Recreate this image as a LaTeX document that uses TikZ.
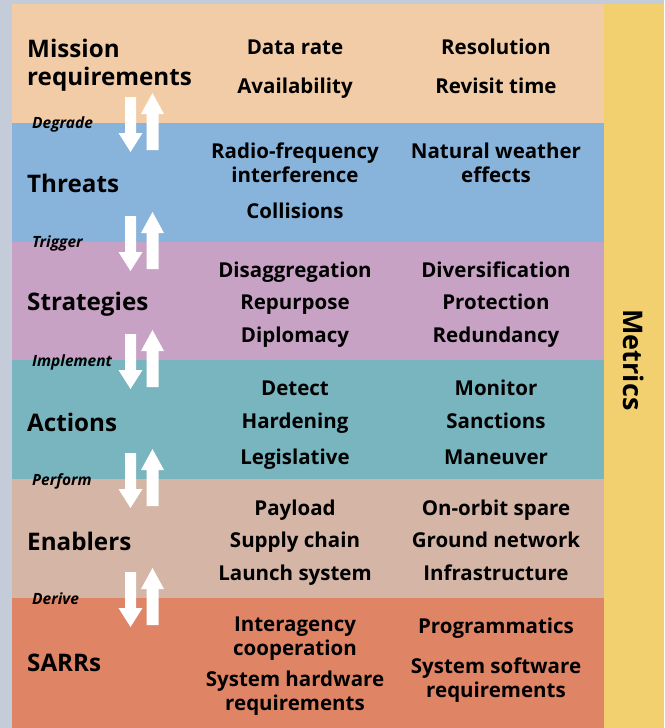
\documentclass[tikz,border=0pt]{standalone}
\usepackage{fontspec}
\setmainfont{Open Sans}
\definecolor{frame}{HTML}{C5CCD9}
\definecolor{missionc}{HTML}{F2CCA6}
\definecolor{threatc}{HTML}{88B4DC}
\definecolor{strategyc}{HTML}{C8A2C5}
\definecolor{actionc}{HTML}{79B5BF}
\definecolor{enablerc}{HTML}{D4B5A6}
\definecolor{sarrc}{HTML}{E08466}
\definecolor{metricc}{HTML}{F2CF6F}
\tikzset{
  rowlabel/.style={anchor=base west, inner sep=0pt, align=left,
    font=\bfseries\fontsize{24.2}{28}\selectfont},
  item/.style={anchor=base, inner sep=0pt, align=center,
    font=\bfseries\fontsize{20.5}{23.5}\selectfont},
  verb/.style={anchor=base west, inner sep=0pt,
    font=\bfseries\itshape\fontsize{15.5}{18}\selectfont},
  % paired down/up arrows straddling the border between two layers
  updown/.pic={
    \fill[white] (-5.5,-26) -- (5.5,-26) -- (5.5,10) -- (12,10) -- (0,29)
      -- (-12,10) -- (-5.5,10) -- cycle;
    \fill[white] (16,27) -- (28,27) -- (28,-9) -- (33.5,-9) -- (22,-30)
      -- (10.5,-9) -- (16,-9) -- cycle;
  }
}
\begin{document}
\begin{tikzpicture}[x=1pt,y=-1pt]
\useasboundingbox (0,0) rectangle (664,728);
\fill[frame] (0,0) rectangle (664,728);
% layers
\fill[missionc]  (12,4)   rectangle (604,123);
\fill[threatc]   (12,123) rectangle (604,242);
\fill[strategyc] (12,242) rectangle (604,360);
\fill[actionc]   (12,360) rectangle (604,479);
\fill[enablerc]  (12,479) rectangle (604,598);
\fill[sarrc]     (12,598) rectangle (604,728);
% metrics bar
\fill[metricc] (604,4) rectangle (664,728);
\node[rotate=-90, inner sep=0pt, font=\bfseries\fontsize{27}{30}\selectfont]
  (metrics) at (634,360) {Metrics};

% row labels (multi-line nodes are placed by their last baseline)
\node[rowlabel] (mission) at (27,85) {Mission\\requirements};
\node[rowlabel] (threats) at (27,192) {Threats};
\node[rowlabel] (strategies) at (27,310) {Strategies};
\node[rowlabel] (actions) at (27,431) {Actions};
\node[rowlabel] (enablers) at (27,550) {Enablers};
\node[rowlabel] (sarrs) at (27,671) {SARRs};

% arrows between layers
\foreach \b in {123,242,360,479,598}
  \pic at (130.5,\b) {updown};

% relation labels
\node[verb] (degrade) at (32,128) {Degrade};
\node[verb] (trigger) at (32,247) {Trigger};
\node[verb] (implement) at (32,366) {Implement};
\node[verb] (perform) at (32,485) {Perform};
\node[verb] (derive) at (32,604) {Derive};

% mission requirements
\node[item] (m1) at (295,54) {Data rate};
\node[item] (m2) at (295,93) {Availability};
\node[item] (m3) at (496,54) {Resolution};
\node[item] (m4) at (496,93) {Revisit time};
% threats
\node[item] (t1) at (295,182) {Radio-frequency\\interference};
\node[item] (t2) at (295,218) {Collisions};
\node[item] (t3) at (496,182) {Natural weather\\effects};
% strategies
\node[item] (s1) at (295,277) {Disaggregation};
\node[item] (s2) at (295,309) {Repurpose};
\node[item] (s3) at (295,342) {Diplomacy};
\node[item] (s4) at (496,277) {Diversification};
\node[item] (s5) at (496,309) {Protection};
\node[item] (s6) at (496,342) {Redundancy};
% actions
\node[item] (a1) at (295,395) {Detect};
\node[item] (a2) at (295,428) {Hardening};
\node[item] (a3) at (295,464) {Legislative};
\node[item] (a4) at (496,395) {Monitor};
\node[item] (a5) at (496,428) {Sanctions};
\node[item] (a6) at (496,464) {Maneuver};
% enablers
\node[item] (e1) at (295,515) {Payload};
\node[item] (e2) at (295,547) {Supply chain};
\node[item] (e3) at (295,580) {Launch system};
\node[item] (e4) at (496,515) {On-orbit spare};
\node[item] (e5) at (496,547) {Ground network};
\node[item] (e6) at (496,580) {Infrastructure};
% SARRs
\node[item] (r1) at (295,655) {Interagency\\cooperation};
\node[item] (r2) at (295,710) {System hardware\\requirements};
\node[item] (r3) at (496,633) {Programmatics};
\node[item] (r4) at (496,697) {System software\\requirements};
\end{tikzpicture}
\end{document}
